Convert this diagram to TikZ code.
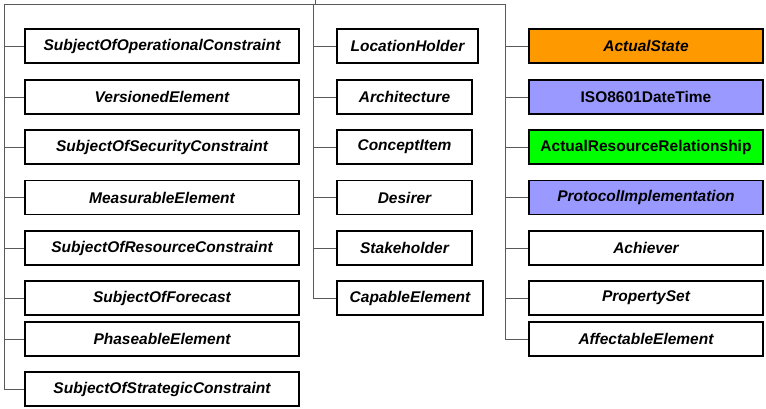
\documentclass[tikz,border=0pt]{standalone}
\usepackage{fontspec}
\setmainfont{Liberation Sans}
\definecolor{stateorange}{HTML}{FF9900}
\definecolor{typeblue}{HTML}{9999FF}
\definecolor{relgreen}{HTML}{00FF00}
\begin{document}
\begin{tikzpicture}[x=1pt, y=-1pt,
  cls/.style={draw=black, line width=1.2pt, fill=white, inner sep=0pt,
    minimum height=34pt, font=\fontsize{15.5}{18}\selectfont\bfseries\itshape},
  plain/.style={font=\fontsize{15.5}{18}\selectfont\bfseries},
  link/.style={draw=black!65, line width=1pt}]
  \useasboundingbox (0,0) rectangle (766,408);
  % trunk lines
  \coordinate (root) at (315,0);
  \coordinate (hub) at (315,4);
  \coordinate (tl) at (4,4);
  \coordinate (tm) at (313,4);
  \coordinate (tr) at (505,4);
  % left column
  \node[cls, minimum width=274pt] (opc) at (162,46) {SubjectOfOperationalConstraint};
  \node[cls, minimum width=274pt] (ver) at (162,97) {VersionedElement};
  \node[cls, minimum width=274pt] (sec) at (162,147) {SubjectOfSecurityConstraint};
  \node[cls, minimum width=274pt] (mea) at (162,197.5) {MeasurableElement};
  \node[cls, minimum width=274pt] (res) at (162,248) {SubjectOfResourceConstraint};
  \node[cls, minimum width=274pt] (fct) at (162,298) {SubjectOfForecast};
  \node[cls, minimum width=274pt] (pha) at (162,339) {PhaseableElement};
  \node[cls, minimum width=274pt] (str) at (162,389) {SubjectOfStrategicConstraint};
  % middle column
  \node[cls, minimum width=141pt] (loc) at (407.5,46) {LocationHolder};
  \node[cls, minimum width=135pt] (arc) at (404.5,97) {Architecture};
  \node[cls, minimum width=135pt] (con) at (404.5,147) {ConceptItem};
  \node[cls, minimum width=135pt] (des) at (404.5,197.5) {Desirer};
  \node[cls, minimum width=135pt] (stk) at (404.5,248) {Stakeholder};
  \node[cls, minimum width=146pt] (cap) at (410,298) {CapableElement};
  % right column
  \node[cls, minimum width=234pt, fill=stateorange] (act) at (646,46) {ActualState};
  \node[cls, plain, minimum width=234pt, fill=typeblue] (iso) at (646,97) {ISO8601DateTime};
  \node[cls, plain, minimum width=234pt, fill=relgreen] (arr) at (646,147) {ActualResourceRelationship};
  \node[cls, minimum width=234pt, fill=typeblue] (pro) at (646,197.5) {ProtocolImplementation};
  \node[cls, minimum width=234pt] (ach) at (646,248) {Achiever};
  \node[cls, minimum width=234pt] (prs) at (646,298) {PropertySet};
  \node[cls, minimum width=234pt] (aff) at (646,339) {AffectableElement};
  % connectors
  \draw[link] (root) -- (hub);
  \draw[link] (tl) -- (tr);
  \draw[link] (tl |- opc.west) -- (opc.west);
  \draw[link] (tl |- ver.west) -- (ver.west);
  \draw[link] (tl |- sec.west) -- (sec.west);
  \draw[link] (tl |- mea.west) -- (mea.west);
  \draw[link] (tl |- res.west) -- (res.west);
  \draw[link] (tl |- fct.west) -- (fct.west);
  \draw[link] (tl |- pha.west) -- (pha.west);
  \draw[link] (tl) |- (str.west);
  \draw[link] (tm |- loc.west) -- (loc.west);
  \draw[link] (tm |- arc.west) -- (arc.west);
  \draw[link] (tm |- con.west) -- (con.west);
  \draw[link] (tm |- des.west) -- (des.west);
  \draw[link] (tm |- stk.west) -- (stk.west);
  \draw[link] (tm) |- (cap.west);
  \draw[link] (tr |- act.west) -- (act.west);
  \draw[link] (tr |- iso.west) -- (iso.west);
  \draw[link] (tr |- arr.west) -- (arr.west);
  \draw[link] (tr |- pro.west) -- (pro.west);
  \draw[link] (tr |- ach.west) -- (ach.west);
  \draw[link] (tr |- prs.west) -- (prs.west);
  \draw[link] (tr) |- (aff.west);
\end{tikzpicture}
\end{document}
